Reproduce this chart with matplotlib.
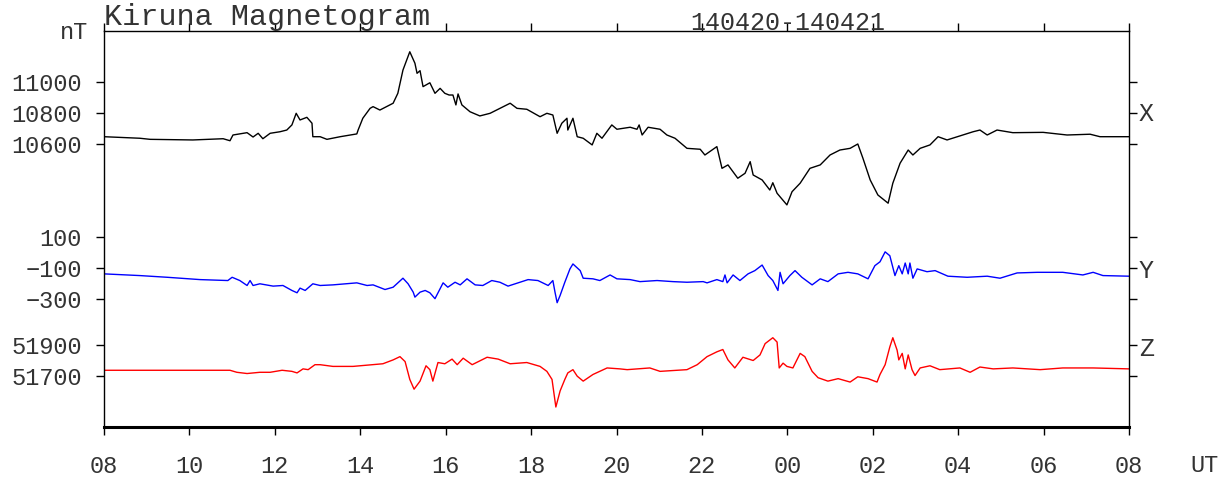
import matplotlib
matplotlib.use("Agg")
import matplotlib.pyplot as plt

plt.rcParams['font.family'] = ['Liberation Mono', 'DejaVu Sans Mono']

# hours since 08 UT (20 Apr) -> 08 UT (21 Apr)
x_time = [0.00, 0.84, 1.08, 2.08, 2.79, 2.95, 3.02, 3.35, 3.49, 3.61, 3.72, 3.89, 4.12, 4.28,
          4.40, 4.50, 4.59, 4.75, 4.87, 4.89, 5.06, 5.22, 5.53, 5.92, 5.95, 6.06, 6.23, 6.30,
          6.46, 6.77, 6.88, 7.00, 7.16, 7.28, 7.33, 7.40, 7.47, 7.63, 7.75, 7.87, 7.98, 8.08,
          8.17, 8.24, 8.29, 8.38, 8.57, 8.80, 9.04, 9.51, 9.67, 9.90, 10.21, 10.37, 10.51, 10.61,
          10.72, 10.84, 10.86, 10.98, 11.08, 11.22, 11.43, 11.54, 11.66, 11.89, 12.01, 12.32,
          12.48, 12.53, 12.60, 12.74, 13.02, 13.18, 13.37, 13.65, 13.96, 14.07, 14.35, 14.47,
          14.61, 14.84, 15.01, 15.13, 15.20, 15.41, 15.59, 15.66, 15.76, 15.99, 16.11, 16.30,
          16.53, 16.77, 17.00, 17.23, 17.47, 17.65, 17.77, 17.94, 18.12, 18.36, 18.47, 18.64,
          18.83, 18.94, 19.11, 19.34, 19.53, 19.74, 20.04, 20.35, 20.51, 20.68, 20.91, 21.28,
          21.99, 22.55, 23.09, 23.32, 24.00]
x_nt = [10647, 10637, 10630, 10626, 10634, 10621, 10658, 10673, 10645, 10669, 10634, 10669, 10679, 10690,
        10723, 10798, 10755, 10772, 10734, 10647, 10647, 10630, 10647, 10665, 10690, 10766, 10830, 10841,
        10819, 10863, 10927, 11077, 11195, 11121, 11056, 11073, 10970, 10995, 10927, 10959, 10927, 10916,
        10916, 10852, 10923, 10852, 10808, 10781, 10798, 10863, 10830, 10824, 10776, 10798, 10787, 10669,
        10734, 10766, 10690, 10766, 10647, 10637, 10594, 10669, 10637, 10723, 10695, 10708,
        10695, 10723, 10658, 10708, 10695, 10658, 10637, 10572, 10566, 10529, 10583, 10443,
        10465, 10379, 10411, 10486, 10400, 10368, 10303, 10350, 10282, 10207, 10292, 10347,
        10443, 10465, 10529, 10561, 10572, 10600, 10508, 10368, 10271, 10218, 10347, 10476,
        10561, 10529, 10572, 10594, 10647, 10626, 10652, 10679, 10690, 10658, 10690, 10673,
        10675, 10658, 10663, 10647, 10647]

y_time = [0.00, 0.84, 1.48, 2.25, 2.90, 3.00, 3.18, 3.35, 3.42, 3.49, 3.65, 3.96, 4.19, 4.40,
          4.52, 4.59, 4.71, 4.89, 5.06, 5.36, 5.92, 6.16, 6.30, 6.58, 6.77, 7.00, 7.12, 7.24,
          7.28, 7.40, 7.52, 7.63, 7.75, 7.94, 8.05, 8.22, 8.34, 8.50, 8.69, 8.87, 9.08, 9.27,
          9.46, 9.74, 9.93, 10.16, 10.40, 10.51, 10.56, 10.61, 10.68, 10.79, 10.91, 10.98, 11.15,
          11.22, 11.45, 11.61, 11.85, 12.01, 12.32, 12.55, 12.95, 13.32, 13.65, 14.03, 14.12,
          14.35, 14.49, 14.54, 14.59, 14.73, 14.89, 15.08, 15.24, 15.41, 15.55, 15.66, 15.78,
          15.83, 15.90, 16.06, 16.18, 16.34, 16.58, 16.77, 16.95, 17.19, 17.42, 17.65, 17.89,
          18.05, 18.17, 18.29, 18.40, 18.52, 18.61, 18.69, 18.76, 18.83, 18.87, 18.94, 19.04,
          19.27, 19.46, 19.76, 20.21, 20.68, 20.98, 21.38, 21.85, 22.45, 22.92, 23.16, 23.39, 24.00]
y_nt = [-138, -149, -160, -175, -181, -160, -181, -213, -181, -213, -202, -217, -213, -245,
        -260, -230, -245, -202, -213, -209, -196, -213, -209, -239, -224, -166, -202, -256,
        -288, -256, -245, -260, -298, -196, -224, -192, -209, -170, -209, -213, -181, -192,
        -217, -192, -175, -181, -213, -181, -256, -324, -277, -192, -106, -74, -117,
        -166, -170, -181, -145, -170, -175, -188, -181, -188, -192, -188, -196,
        -175, -188, -145, -196, -145, -181, -138, -117, -81, -149, -181, -245,
        -128, -202, -149, -117, -160, -209, -170, -188, -138, -128, -138, -170,
        -85, -60, 4, -21, -149, -85, -138, -68, -138, -68, -166, -106,
        -124, -117, -153, -160, -153, -166, -132, -128, -128, -145, -128, -149, -153]

z_time = [0.00, 1.48, 2.95, 3.11, 3.35, 3.65, 3.89, 4.17, 4.40, 4.52, 4.66, 4.78, 4.94, 5.06,
          5.36, 5.83, 6.53, 6.77, 6.93, 7.05, 7.16, 7.26, 7.40, 7.54, 7.63, 7.70, 7.82, 7.98,
          8.15, 8.27, 8.41, 8.62, 8.97, 9.23, 9.51, 9.90, 10.21, 10.37, 10.49, 10.58, 10.68,
          10.79, 10.86, 10.98, 11.08, 11.22, 11.45, 11.78, 12.08, 12.25, 12.78, 13.02, 13.65,
          13.89, 14.12, 14.35, 14.49, 14.61, 14.77, 14.96, 15.20, 15.36, 15.48, 15.66, 15.76,
          15.81, 15.90, 15.99, 16.13, 16.30, 16.41, 16.58, 16.72, 16.95, 17.19, 17.47, 17.65,
          17.89, 18.10, 18.17, 18.29, 18.40, 18.47, 18.57, 18.61, 18.69, 18.76, 18.83, 18.92,
          18.99, 19.11, 19.34, 19.57, 20.04, 20.28, 20.51, 20.82, 21.28, 21.92, 22.45, 23.16, 24.00]
z_nt = [51740, 51740, 51740, 51727, 51719, 51727, 51727, 51740, 51733, 51723, 51749, 51744, 51776, 51776,
        51765, 51765, 51782, 51807, 51828, 51796, 51681, 51618, 51670, 51769, 51744, 51670, 51790, 51782,
        51812, 51776, 51818, 51776, 51824, 51812, 51782, 51790, 51765, 51733, 51681, 51503, 51607,
        51681, 51723, 51744, 51702, 51670, 51713, 51755, 51749, 51744, 51755, 51733, 51744,
        51776, 51828, 51859, 51874, 51807, 51755, 51824, 51803, 51839, 51912, 51950, 51922,
        51755, 51786, 51765, 51755, 51849, 51828, 51733, 51692, 51670, 51686, 51664, 51698,
        51686, 51664, 51713, 51776, 51891, 51950, 51870, 51807, 51849, 51749, 51839, 51744,
        51706, 51755, 51769, 51744, 51755, 51727, 51761, 51749, 51755, 51744, 51755, 51755, 51749]

x_ticks = [10600, 10800, 11000]
y_ticks = [-300, -100, 100]
z_ticks = [51700, 51900]
hour_labels = ["08", "10", "12", "14", "16", "18", "20", "22", "00", "02", "04", "06", "08"]

# vertical offsets so the three components share one axis
Y_OFF = 9900
Z_OFF = -42600

fig = plt.figure(figsize=(12.31, 4.84), dpi=100)
ax = fig.add_axes([104 / 1231, 57 / 484, 1025 / 1231, 396 / 484])

ax.plot(x_time, x_nt, color='black', lw=1.0)
ax.plot(y_time, [v + Y_OFF for v in y_nt], color='#0000ff', lw=1.0)
ax.plot(z_time, [v + Z_OFF for v in z_nt], color='#ff0000', lw=1.0)

ax.set_xlim(0, 24)
ax.set_ylim(8774, 11329)

ax.set_xticks(range(0, 25, 2))
ax.set_xticklabels(hour_labels)

pos = x_ticks + [v + Y_OFF for v in y_ticks] + [v + Z_OFF for v in z_ticks]
labs = [str(v) for v in x_ticks] + [str(v).replace('-', '\u2212') for v in y_ticks] + [str(v) for v in z_ticks]
ax.set_yticks(pos)
ax.set_yticklabels(labs)

ax.tick_params(axis='x', top=True, bottom=True, direction='out', length=6, width=1,
               labelsize=17, pad=14, labelcolor='#333333')
ax.tick_params(axis='y', left=True, right=True, labelright=False, direction='out', length=6,
               width=1, labelsize=17, pad=10, labelcolor='#333333')

for s in ['left', 'right', 'top']:
    ax.spines[s].set_linewidth(1.0)
ax.spines['bottom'].set_linewidth(2.2)

ax.text(0, 1, "Kiruna Magnetogram", transform=ax.transAxes, ha='left', va='bottom',
        fontsize=21.7, color='#333333')
fig.text(690 / 1231, 1 - 30 / 484, "140420-140421", ha='left', va='baseline',
         fontsize=18, color='#333333')
fig.text(88 / 1231, 1 - 33 / 484, "nT", ha='right', va='center', fontsize=17, color='#333333')
fig.text(1139 / 1231, 1 - 114 / 484, "X", ha='left', va='center', fontsize=18, color='#333333')
fig.text(1139 / 1231, 1 - 271 / 484, "Y", ha='left', va='center', fontsize=18, color='#333333')
fig.text(1139 / 1231, 1 - 349 / 484, "Z", ha='left', va='center', fontsize=18, color='#333333')
fig.text(1190 / 1231, 1 - 466 / 484, "UT", ha='left', va='center', fontsize=17, color='#333333')

fig.savefig("out.png", dpi=100)
